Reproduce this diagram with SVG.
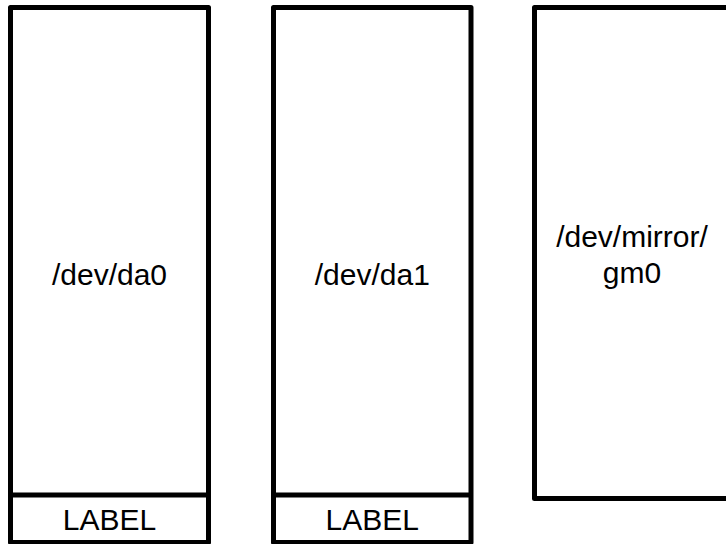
<svg xmlns="http://www.w3.org/2000/svg" width="726" height="544" viewBox="0 0 726 544">
  <style>
    .box { fill: #ffffff; stroke: #000000; stroke-width: 5; stroke-linejoin: round; }
    .sep { stroke: #000000; stroke-width: 5; }
    .lbl { font-family: "Liberation Sans", Arial, Helvetica, sans-serif; font-size: 30px; fill: #000000; text-anchor: middle; }
  </style>
  <rect width="726" height="544" fill="#ffffff"/>

  <!-- disk da0 with its metadata label sector -->
  <g id="da0">
    <rect class="box" x="10.5" y="7.5" width="198" height="535"/>
    <line class="sep" x1="10.5" y1="495" x2="208.5" y2="495"/>
    <text class="lbl" x="109.5" y="285">/dev/da0</text>
    <text class="lbl" x="109.5" y="530">LABEL</text>
  </g>

  <!-- disk da1 with its metadata label sector -->
  <g id="da1">
    <rect class="box" x="273.5" y="7.5" width="197.5" height="535"/>
    <line class="sep" x1="273.5" y1="495" x2="471" y2="495"/>
    <text class="lbl" x="372.3" y="285">/dev/da1</text>
    <text class="lbl" x="372.3" y="530">LABEL</text>
  </g>

  <!-- resulting mirror provider -->
  <g id="gm0">
    <rect class="box" x="534.5" y="7.5" width="198" height="491"/>
    <text class="lbl" x="632" y="247">/dev/mirror/</text>
    <text class="lbl" x="632" y="283">gm0</text>
  </g>

  <g id="connectors"></g>
</svg>
